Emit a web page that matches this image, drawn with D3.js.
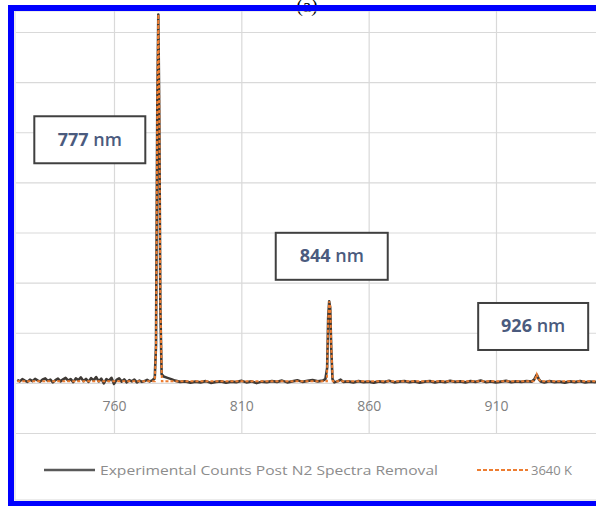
<!DOCTYPE html>
<html>
<head>
<meta charset="utf-8">
<script src="https://cdn.jsdelivr.net/npm/d3@7"></script>
<style>
  html, body { margin: 0; padding: 0; background: #ffffff; }
  svg { display: block; font-family: "Open Sans", "Liberation Sans", sans-serif; }
</style>
</head>
<body>
<svg id="chart" width="596" height="506"></svg>
<script>
// ---- data ----
const xTicks = [760, 810, 860, 910];
const yTicks = [-2000, 0, 2000, 4000, 6000, 8000, 10000, 12000, 14000];
const seriesNames = ["Experimental Counts Post N2 Spectra Removal", "3640 K"];
const peakLabels = ["777 nm", "844 nm", "926 nm"];
const chartTitle = "(a)";

// Experimental counts: [wavelength nm, counts]
const experimental = [
  [722,120],[723,60],[724,150],[725,90],[726,40],[727,130],[728,70],[729,160],[730,100],[731,50],
  [732,140],[733,180],[734,80],[735,130],[736,20],[737,110],[738,170],[739,60],[740,140],[741,200],
  [742,90],[743,150],[744,30],[745,180],[746,110],[747,220],[748,70],[749,160],[750,40],[751,190],
  [752,100],[753,230],[754,60],[755,170],[756,-20],[757,150],[758,80],[759,200],[760,-40],[761,120],
  [762,180],[763,50],[764,140],[765,20],[766,110],[767,60],[768,130],[769,20],[770,90],[771,40],
  [772,70],[773,120],[774,60],[775,100],[776,180],[776.5,1500],[777,11000],[777.4,14700],[777.8,10500],
  [778.2,3000],[778.7,350],[779.5,250],[781,200],[782.5,150],[784,90],[786,40],
  [788,60],[790,10],[792,50],[794,20],[796,70],[798,0],[800,40],[802,60],[804,10],[806,50],
  [808,30],[810,80],[812,20],[814,60],[816,-10],[818,50],[820,30],[822,70],[824,40],[826,90],
  [828,20],[830,60],[832,100],[834,40],[836,80],[838,110],[840,60],[842,90],[843,150],
  [843.7,600],[844.1,2600],[844.5,3250],[844.9,3000],[845.3,1400],[845.8,150],[846.5,20],
  [848,70],[849,130],[850,40],[852,60],[854,20],[856,70],[858,30],[860,50],[862,10],[864,60],
  [866,30],[868,80],[870,20],[872,50],[874,70],[876,30],[878,60],[880,10],[882,50],[884,70],
  [886,20],[888,60],[890,30],[892,80],[894,40],[896,60],[898,20],[900,70],[902,40],[904,90],
  [906,30],[908,60],[910,20],[912,50],[914,80],[916,30],[918,60],[920,40],[922,70],[924,50],
  [925,130],[926,330],[926.8,150],[927.5,60],[929,20],[931,70],[933,30],[935,50],[937,10],
  [939,60],[941,30],[943,70],[945,20],[947,50],[949,30],[950,60]
];

// Model spectrum at 3640 K: [wavelength nm, counts]
const model3640 = [
  [722,60],[776,60],[776.5,1400],[777,11200],[777.4,14700],[777.8,10800],[778.2,3200],[778.8,60],
  [843.6,60],[844.1,2500],[844.5,3250],[844.9,3050],[845.3,1500],[845.9,60],
  [924.8,60],[925.5,180],[926,340],[926.6,180],[927.4,60],[950,60]
];

// label anchor wavelengths / values for the annotation boxes
const labelWavelengths = [750.5, 845.5, 924.6];
const labelValues = [9700, 5050, 2250];

// ---- drawing ----
const svg = d3.select("#chart");
const plotLeft = 16, plotTop = 11, plotBottom = 433, plotRight = 600;

const x = d3.scaleLinear().domain([760, 910]).range([114, 496]);
const y = d3.scaleLinear().domain([-2000, 14000]).range([433, 32]);

// background
svg.append("rect").attr("x", 0).attr("y", 0).attr("width", 596).attr("height", 506).attr("fill", "#fff");

// title (partly hidden under frame, as in the reference)
svg.append("text").attr("x", 307).attr("y", 12).attr("text-anchor", "middle")
  .attr("font-size", 19).attr("fill", "#000").attr("font-family", "Liberation Serif, serif")
  .text(chartTitle);

// clip
svg.append("clipPath").attr("id", "plotclip").append("rect")
  .attr("x", plotLeft).attr("y", plotTop).attr("width", plotRight - plotLeft).attr("height", plotBottom - plotTop + 2);

// gridlines
const gx = svg.append("g").attr("transform", `translate(0,${plotBottom})`)
  .call(d3.axisBottom(x).tickValues(xTicks).tickSize(-(plotBottom - plotTop)).tickFormat(""));
gx.select(".domain").remove();
gx.selectAll(".tick line").attr("stroke", "#d9d9d9").attr("stroke-width", 1.2);

const gy = svg.append("g").attr("transform", `translate(${plotLeft},0)`)
  .call(d3.axisLeft(y).tickValues(yTicks).tickSize(-(plotRight - plotLeft)).tickFormat(""));
gy.select(".domain").remove();
gy.selectAll(".tick line").attr("stroke", "#d9d9d9").attr("stroke-width", 1.2);

// x tick labels (axis crossing at 0)
const xa = svg.append("g").attr("transform", `translate(0,${y(0)})`)
  .call(d3.axisBottom(x).tickValues(xTicks).tickSize(0).tickPadding(18).tickFormat(d3.format("d")));
xa.select(".domain").remove();
xa.selectAll("text").attr("font-size", 14).attr("fill", "#808080")
  .attr("font-family", "Open Sans, sans-serif");

// lines
const line = d3.line().x(d => x(d[0])).y(d => y(d[1]));
const data = svg.append("g").attr("clip-path", "url(#plotclip)");
data.append("path").datum(experimental).attr("d", line)
  .attr("fill", "none").attr("stroke", "#3f3a36").attr("stroke-width", 2.6).attr("stroke-linejoin", "round");
data.append("path").datum(model3640).attr("d", line)
  .attr("fill", "none").attr("stroke", "#ed7d31").attr("stroke-width", 2).attr("stroke-dasharray", "3,2");

// annotation boxes
const boxW = [111, 112, 110], boxH = 47;
peakLabels.forEach((lab, i) => {
  const cx = x(labelWavelengths[i]), cy = y(labelValues[i]);
  const g = svg.append("g");
  g.append("rect").attr("x", cx - boxW[i] / 2).attr("y", cy - boxH / 2)
    .attr("width", boxW[i]).attr("height", boxH)
    .attr("fill", "#fff").attr("stroke", "#404040").attr("stroke-width", 2);
  const parts = lab.split(" ");
  const t = g.append("text").attr("x", cx).attr("y", cy + 6).attr("text-anchor", "middle")
    .attr("font-size", 18).attr("fill", "#4b5b7e").attr("font-family", "Open Sans, sans-serif");
  t.append("tspan").attr("font-weight", "bold").text(parts[0]);
  t.append("tspan").attr("font-weight", "600").text(" " + parts[1]);
});

// legend
const legY = 470;
svg.append("line").attr("x1", 44).attr("x2", 95).attr("y1", legY).attr("y2", legY)
  .attr("stroke", "#595959").attr("stroke-width", 2.5);
svg.append("text").attr("x", 100).attr("y", legY + 5).attr("font-size", 13)
  .attr("fill", "#8c8c8c").attr("textLength", 338).attr("lengthAdjust", "spacingAndGlyphs")
  .text(seriesNames[0]);
svg.append("line").attr("x1", 477).attr("x2", 528).attr("y1", legY).attr("y2", legY)
  .attr("stroke", "#ed7d31").attr("stroke-width", 2).attr("stroke-dasharray", "4,2");
svg.append("text").attr("x", 531).attr("y", legY + 5).attr("font-size", 13)
  .attr("fill", "#8c8c8c").text(seriesNames[1]);

// frame
svg.append("rect").attr("x", 15).attr("y", 11).attr("width", 590).attr("height", 489)
  .attr("fill", "none").attr("stroke", "#d9d9d9").attr("stroke-width", 1);
svg.append("rect").attr("x", 8).attr("y", 5).attr("width", 600).attr("height", 6).attr("fill", "#0000ff");
svg.append("rect").attr("x", 8).attr("y", 5).attr("width", 6).attr("height", 501).attr("fill", "#0000ff");
svg.append("rect").attr("x", 8).attr("y", 501).attr("width", 600).attr("height", 5).attr("fill", "#0000ff");
</script>
</body>
</html>
